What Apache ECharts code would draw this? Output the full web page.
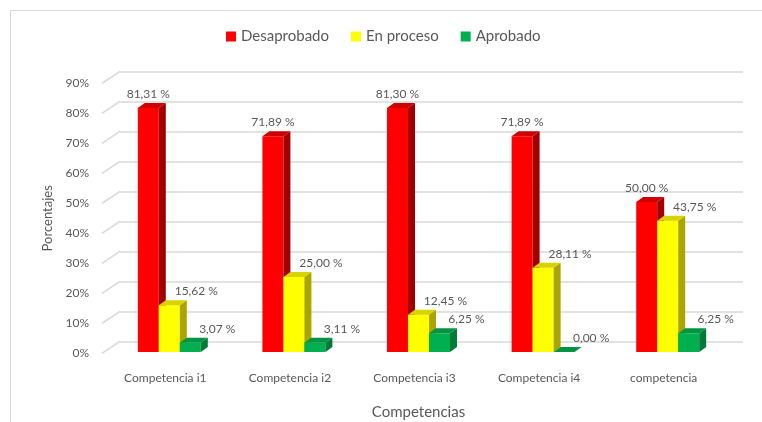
<!DOCTYPE html>
<html><head><meta charset="utf-8">
<script src="https://cdn.jsdelivr.net/npm/echarts@6/dist/echarts.min.js"></script>
<style>html,body{margin:0;padding:0;background:#fff}#c{width:762px;height:422px}</style>
</head><body><div id="c"></div>
<script>
var categories = ['Competencia i1','Competencia i2','Competencia i3','Competencia i4','competencia'];
var desaprobado = [81.31, 71.89, 81.30, 71.89, 50.00];
var enProceso = [15.62, 25.00, 12.45, 28.11, 43.75];
var aprobado = [3.07, 3.11, 6.25, 0.00, 6.25];
var ticks = [0,10,20,30,40,50,60,70,80,90];
var seriesNames = ['Desaprobado','En proceso','Aprobado'];

var FONT = 'Lato';
var TXT = '#595959';
var GRIDC = '#D9D9D9';
var front = ['#FF0000','#FFFF00','#00B050'];
var sideC = ['#A00000','#ABA500','#007A36'];
var topC  = ['#D00000','#D8D200','#009443'];
var BW = 21, DX = 7, DY = 5;

function fmt(p){ return p.value.toFixed(2).replace('.',',') + ' %'; }

function sideRender(k){
  return function(params, api){
    var cat = api.value(0), v = api.value(1);
    var p = api.coord([cat, v]);
    var p0 = api.coord([cat, 0]);
    var x0 = p[0] - 1.5*BW + k*BW, x1 = x0 + BW;
    var top = p[1], bot = p0[1];
    return {type:'group', children:[
      {type:'polygon', shape:{points:[[x1,bot],[x1,top],[x1+DX,top-DY],[x1+DX,bot-DY]]}, style:{fill:sideC[k]}},
      {type:'polygon', shape:{points:[[x0,top],[x0+DX,top-DY],[x1+DX,top-DY],[x1,top]]}, style:{fill:topC[k]}}
    ]};
  };
}

var dataSets = [desaprobado, enProceso, aprobado];
var series = [];
dataSets.forEach(function(arr, k){
  series.push({
    name: seriesNames[k], type:'bar', xAxisIndex:2, yAxisIndex:2,
    data: arr, barWidth: BW, barGap:'0%', z: 2 + k*2,
    itemStyle:{color: front[k]},
    label:{show:true, position:'top', distance:8, offset: k===0?[0,0]:[27,0],
      formatter: fmt, color: TXT, fontFamily: FONT, fontSize: 12}
  });
  series.push({
    type:'custom', xAxisIndex:2, yAxisIndex:2, z: 3 + k*2,
    data: arr.map(function(v,i){return [i,v];}),
    encode:{x:0,y:1}, renderItem: sideRender(k), silent:true
  });
});
series.push({
  type:'custom', xAxisIndex:1, yAxisIndex:1, z:1, silent:true,
  data: ticks.map(function(t){return [0,t];}), encode:{x:0,y:1},
  renderItem: function(params, api){
    var p = api.coord([0, api.value(1)]);
    return {type:'line', shape:{x1:p[0], y1:p[1], x2:p[0]+18, y2:p[1]-12}, style:{stroke:GRIDC, lineWidth:1.5}};
  }
});

var option = {
  animation:false,
  backgroundColor:'#fff',
  textStyle:{fontFamily:FONT},
  graphic:[{type:'rect', shape:{x:10.5, y:10.5, width:800, height:500}, style:{fill:'none', stroke:GRIDC, lineWidth:1}, z:-10}],
  legend:{data: seriesNames, left:221, top:24, itemWidth:10, itemHeight:10, itemGap:22, icon:'rect',
    textStyle:{color:TXT, fontSize:15, fontFamily:FONT}},
  grid:[
    {left:120, right:19, top:71.3, bottom:80.7, outerBoundsMode:'none', containLabel:false},
    {left:102, right:19, top:83.3, bottom:68.7, outerBoundsMode:'none', containLabel:false},
    {left:107, right:32, top:82, bottom:70, outerBoundsMode:'none', containLabel:false}
  ],
  xAxis:[
    {gridIndex:0, type:'value', show:false, min:0, max:1},
    {gridIndex:1, type:'value', show:false, min:0, max:1},
    {gridIndex:2, type:'category', data:categories,
      axisLine:{show:false}, axisTick:{show:false},
      axisLabel:{color:TXT, fontSize:12, fontFamily:FONT, margin:20, padding:[0,8,0,0]},
      name:'Competencias', nameLocation:'middle', nameGap:53,
      nameTextStyle:{color:TXT, fontSize:15, fontFamily:FONT}}
  ],
  yAxis:[
    {gridIndex:0, type:'value', min:0, max:90, interval:10,
      axisLine:{show:false}, axisTick:{show:false}, axisLabel:{show:false},
      splitLine:{show:true, lineStyle:{color:GRIDC, width:1.5}}},
    {gridIndex:1, type:'value', min:0, max:90, interval:10,
      axisLine:{show:false}, axisTick:{show:false}, splitLine:{show:false},
      axisLabel:{formatter:'{value}%', color:TXT, fontSize:12, fontFamily:FONT, margin:13},
      name:'Porcentajes', nameLocation:'middle', nameRotate:90, nameGap:37,
      nameTextStyle:{color:TXT, fontSize:13, fontFamily:FONT}},
    {gridIndex:2, type:'value', min:0, max:90, interval:10, show:false}
  ],
  series: series
};
var chart = echarts.init(document.getElementById('c'), null, {renderer:'canvas'});
chart.setOption(option);
</script></body></html>
